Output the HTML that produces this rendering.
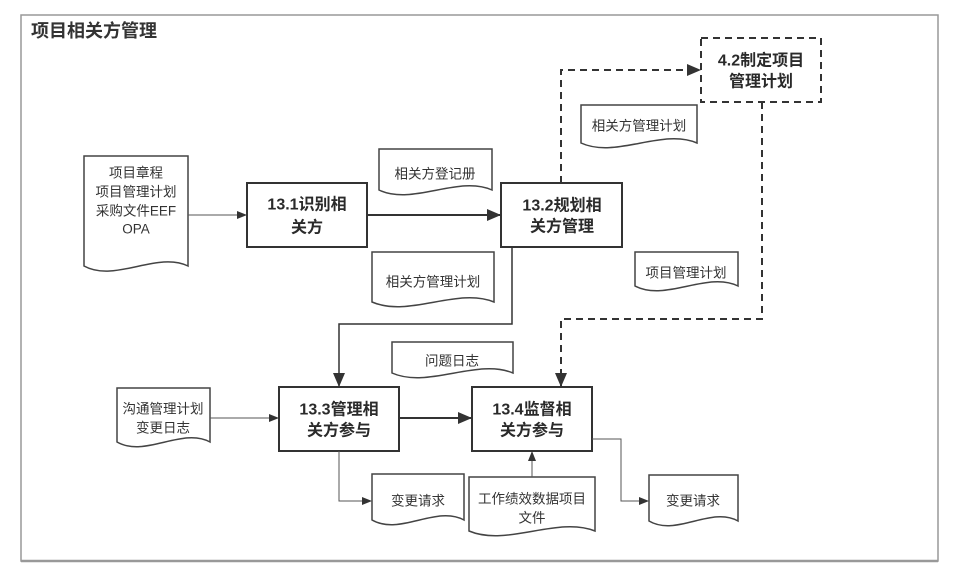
<!DOCTYPE html>
<html><head><meta charset="utf-8"><style>
html,body{margin:0;padding:0;background:#fff;}
svg{display:block;}
text{font-family:"Liberation Sans","Noto Sans CJK SC",sans-serif;fill:#333;}
.d{font-size:13.5px;text-anchor:middle;dominant-baseline:central;}
.p{font-size:16px;font-weight:bold;text-anchor:middle;dominant-baseline:central;fill:#2a2a2a;}
.doc{fill:#fff;stroke:#444;stroke-width:1.5;}
.box{fill:#fff;stroke:#333;stroke-width:2;}
</style></head><body>
<svg width="970" height="574" viewBox="0 0 970 574" xmlns="http://www.w3.org/2000/svg">
<defs>
<marker id="a" markerWidth="10" markerHeight="10" refX="9" refY="5" orient="auto" markerUnits="userSpaceOnUse"><path d="M0,1 L10,5 L0,9 Z" fill="#333"/></marker>
<marker id="b" markerWidth="14" markerHeight="14" refX="13" refY="7" orient="auto" markerUnits="userSpaceOnUse"><path d="M0,1 L14,7 L0,13 Z" fill="#333"/></marker>
</defs>
<rect x="21" y="15" width="917" height="546" fill="none" stroke="#999" stroke-width="1.5"/>
<line x1="21" y1="561" x2="938" y2="561" stroke="#999" stroke-width="2.5"/>
<text x="31" y="31" style="font-size:18px;font-weight:bold;dominant-baseline:central;fill:#333">项目相关方管理</text>

<path class="doc" d="M84,156 H188 V266 C157,251 115,283 84,266 Z"/>
<path class="doc" d="M379,149 H492 V190 C458,175 413,206 379,190 Z"/>
<path class="doc" d="M372,252 H494 V302 C457,287 409,318 372,302 Z"/>
<path class="doc" d="M581,105 H697 V143 C662,128 616,159 581,143 Z"/>
<path class="doc" d="M635,252 H738 V286 C707,271 666,302 635,286 Z"/>
<path class="doc" d="M392,342 H513 V373 C477,358 428,389 392,373 Z"/>
<path class="doc" d="M117,388 H210 V442 C182,427 145,458 117,442 Z"/>
<path class="doc" d="M372,474 H464 V520 C436,505 400,536 372,520 Z"/>
<path class="doc" d="M469,477 H595 V531 C557,516 507,547 469,531 Z"/>
<path class="doc" d="M649,475 H738 V521 C711,506 676,537 649,521 Z"/>

<text class="d" x="136" y="173">项目章程</text>
<text class="d" x="136" y="192">项目管理计划</text>
<text class="d" x="136" y="211">采购文件EEF</text>
<text class="d" x="136" y="229">OPA</text>
<text class="d" x="435" y="174">相关方登记册</text>
<text class="d" x="433" y="282">相关方管理计划</text>
<text class="d" x="639" y="126">相关方管理计划</text>
<text class="d" x="686" y="273">项目管理计划</text>
<text class="d" x="452" y="361">问题日志</text>
<text class="d" x="163" y="409">沟通管理计划</text>
<text class="d" x="163" y="428">变更日志</text>
<text class="d" x="418" y="501">变更请求</text>
<text class="d" x="532" y="499">工作绩效数据项目</text>
<text class="d" x="532" y="518">文件</text>
<text class="d" x="693" y="501">变更请求</text>

<rect class="box" x="247" y="183" width="120" height="64"/>
<text class="p" x="307" y="205">13.1识别相</text><text class="p" x="307" y="228">关方</text>
<rect class="box" x="501" y="183" width="121" height="64"/>
<text class="p" x="562" y="206">13.2规划相</text><text class="p" x="562" y="227">关方管理</text>
<rect x="701" y="38" width="120" height="64" fill="#fff" stroke="#333" stroke-width="2" stroke-dasharray="7,5"/>
<text class="p" x="761" y="61">4.2制定项目</text><text class="p" x="761" y="82">管理计划</text>
<rect class="box" x="279" y="387" width="120" height="64"/>
<text class="p" x="339" y="410">13.3管理相</text><text class="p" x="339" y="431">关方参与</text>
<rect class="box" x="472" y="387" width="120" height="64"/>
<text class="p" x="532" y="410">13.4监督相</text><text class="p" x="532" y="431">关方参与</text>

<line x1="188" y1="215" x2="246" y2="215" stroke="#555" stroke-width="1" marker-end="url(#a)"/>
<line x1="367" y1="215" x2="500" y2="215" stroke="#333" stroke-width="2" marker-end="url(#b)"/>
<polyline points="561,183 561,70 700,70" fill="none" stroke="#333" stroke-width="2" stroke-dasharray="7,5" marker-end="url(#b)"/>
<polyline points="762,102 762,319 561,319 561,386" fill="none" stroke="#333" stroke-width="2" stroke-dasharray="7,5" marker-end="url(#b)"/>
<polyline points="512,247 512,324 339,324 339,386" fill="none" stroke="#333" stroke-width="1.5" marker-end="url(#b)"/>
<line x1="210" y1="418" x2="278" y2="418" stroke="#555" stroke-width="1" marker-end="url(#a)"/>
<line x1="399" y1="418" x2="471" y2="418" stroke="#333" stroke-width="2" marker-end="url(#b)"/>
<polyline points="339,451 339,501 371,501" fill="none" stroke="#555" stroke-width="1" marker-end="url(#a)"/>
<line x1="532" y1="477" x2="532" y2="452" stroke="#555" stroke-width="1" marker-end="url(#a)"/>
<polyline points="592,439 621,439 621,501 648,501" fill="none" stroke="#555" stroke-width="1" marker-end="url(#a)"/>
</svg>
</body></html>
